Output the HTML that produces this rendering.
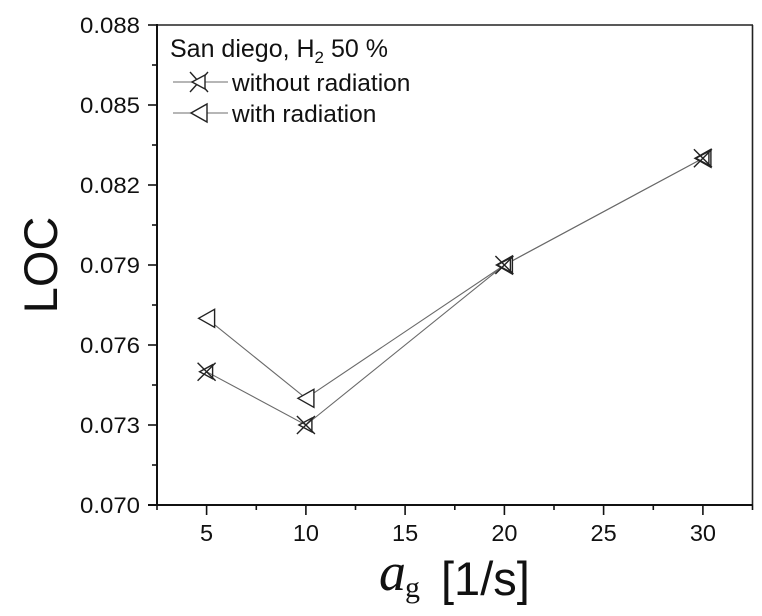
<!DOCTYPE html>
<html>
<head>
<meta charset="utf-8">
<style>
  html, body { margin: 0; padding: 0; background: #ffffff; }
  svg { display: block; }
  text { font-family: "Liberation Sans", Arial, sans-serif; fill: #111; }
</style>
</head>
<body>
<svg width="762" height="616" viewBox="0 0 762 616" xmlns="http://www.w3.org/2000/svg">
  <rect x="0" y="0" width="762" height="616" fill="#ffffff"/>

  <!-- frame -->
  <line x1="157" y1="25" x2="753" y2="25" stroke="#222" stroke-width="1.6"/>
  <line x1="752.5" y1="25" x2="752.5" y2="505" stroke="#222" stroke-width="1.6"/>
  <line x1="157" y1="24" x2="157" y2="506" stroke="#111" stroke-width="2"/>
  <line x1="148" y1="505" x2="753" y2="505" stroke="#111" stroke-width="2"/>

  <!-- y ticks -->
  <g stroke="#111" stroke-width="1.6">
    <line x1="148" y1="25" x2="157" y2="25"/>
    <line x1="148" y1="105" x2="157" y2="105"/>
    <line x1="148" y1="185" x2="157" y2="185"/>
    <line x1="148" y1="265" x2="157" y2="265"/>
    <line x1="148" y1="345" x2="157" y2="345"/>
    <line x1="148" y1="425" x2="157" y2="425"/>
    <line x1="148" y1="505" x2="157" y2="505"/>
    <line x1="152" y1="65" x2="157" y2="65"/>
    <line x1="152" y1="145" x2="157" y2="145"/>
    <line x1="152" y1="225" x2="157" y2="225"/>
    <line x1="152" y1="305" x2="157" y2="305"/>
    <line x1="152" y1="385" x2="157" y2="385"/>
    <line x1="152" y1="465" x2="157" y2="465"/>
  </g>

  <!-- x ticks -->
  <g stroke="#111" stroke-width="1.6">
    <line x1="157" y1="505" x2="157" y2="510"/>
    <line x1="206.6" y1="505" x2="206.6" y2="515"/>
    <line x1="256.3" y1="505" x2="256.3" y2="510"/>
    <line x1="305.9" y1="505" x2="305.9" y2="515"/>
    <line x1="355.5" y1="505" x2="355.5" y2="510"/>
    <line x1="405.1" y1="505" x2="405.1" y2="515"/>
    <line x1="454.8" y1="505" x2="454.8" y2="510"/>
    <line x1="504.4" y1="505" x2="504.4" y2="515"/>
    <line x1="554" y1="505" x2="554" y2="510"/>
    <line x1="603.6" y1="505" x2="603.6" y2="515"/>
    <line x1="653.3" y1="505" x2="653.3" y2="510"/>
    <line x1="702.9" y1="505" x2="702.9" y2="515"/>
    <line x1="752.5" y1="505" x2="752.5" y2="510"/>
  </g>

  <!-- y tick labels -->
  <g font-size="22">
    <text x="80" y="33" textLength="60" lengthAdjust="spacingAndGlyphs">0.088</text>
    <text x="80" y="113" textLength="60" lengthAdjust="spacingAndGlyphs">0.085</text>
    <text x="80" y="193" textLength="60" lengthAdjust="spacingAndGlyphs">0.082</text>
    <text x="80" y="273" textLength="60" lengthAdjust="spacingAndGlyphs">0.079</text>
    <text x="80" y="353" textLength="60" lengthAdjust="spacingAndGlyphs">0.076</text>
    <text x="80" y="433" textLength="60" lengthAdjust="spacingAndGlyphs">0.073</text>
    <text x="80" y="513" textLength="60" lengthAdjust="spacingAndGlyphs">0.070</text>
  </g>

  <!-- x tick labels -->
  <g font-size="23.5" text-anchor="middle">
    <text x="206.6" y="541">5</text>
    <text x="305.9" y="541">10</text>
    <text x="405.1" y="541">15</text>
    <text x="504.4" y="541">20</text>
    <text x="603.6" y="541">25</text>
    <text x="702.9" y="541">30</text>
  </g>

  <!-- axis titles -->
  <text transform="translate(57,265) rotate(-90)" font-size="47" text-anchor="middle">LOC</text>
  <text x="379" y="590" font-size="54" font-style="italic" style="font-family:'Liberation Serif','DejaVu Serif',serif;">a</text>
  <text x="405" y="597" font-size="30" style="font-family:'Liberation Serif','DejaVu Serif',serif;">g</text>
  <text x="441" y="595" font-size="47">[1/s]</text>

  <!-- series lines -->
  <polyline points="206.6,371.7 305.9,425 504.4,265 702.9,158.3" fill="none" stroke="#6a6a6a" stroke-width="1.1"/>
  <polyline points="206.6,318.3 305.9,398.3 504.4,265 702.9,158.3" fill="none" stroke="#6a6a6a" stroke-width="1.1"/>

  <!-- with radiation markers (left triangles) -->
  <g fill="#ffffff" stroke="#222" stroke-width="1.4" stroke-linejoin="miter">
    <path d="M198.6,318.3 L214.6,309.3 L214.6,327.3 Z"/>
    <path d="M297.9,398.3 L313.9,389.3 L313.9,407.3 Z"/>
    <path d="M496.4,265 L512.4,256 L512.4,274 Z"/>
    <path d="M694.9,158.3 L710.9,149.3 L710.9,167.3 Z"/>
  </g>

  <!-- without radiation markers (X + small triangle) -->
  <g fill="none" stroke="#222" stroke-width="1.4">
    <g transform="translate(206.6,371.7)">
      <line x1="-9" y1="-9" x2="9" y2="9"/><line x1="-9" y1="9" x2="9" y2="-9"/>
      <path d="M-7,0 L6,-7 L6,7 Z"/>
    </g>
    <g transform="translate(305.9,425)">
      <line x1="-9" y1="-9" x2="9" y2="9"/><line x1="-9" y1="9" x2="9" y2="-9"/>
      <path d="M-7,0 L6,-7 L6,7 Z"/>
    </g>
    <g transform="translate(504.4,265)">
      <line x1="-9" y1="-9" x2="9" y2="9"/><line x1="-9" y1="9" x2="9" y2="-9"/>
      <path d="M-7,0 L6,-7 L6,7 Z"/>
    </g>
    <g transform="translate(702.9,158.3)">
      <line x1="-9" y1="-9" x2="9" y2="9"/><line x1="-9" y1="9" x2="9" y2="-9"/>
      <path d="M-7,0 L6,-7 L6,7 Z"/>
    </g>
  </g>

  <!-- legend -->
  <text x="170" y="57" font-size="25">San diego, H<tspan font-size="17" dy="6">2</tspan><tspan dy="-6"> 50 %</tspan></text>

  <line x1="173" y1="82" x2="228" y2="82" stroke="#8a8a8a" stroke-width="1.3"/>
  <g transform="translate(199,82)" fill="none" stroke="#222" stroke-width="1.4">
    <line x1="-9" y1="-10" x2="9" y2="10"/><line x1="-9" y1="10" x2="9" y2="-10"/>
    <path d="M-7,0 L6,-7 L6,7 Z" fill="#ffffff"/>
  </g>
  <text x="232" y="91" font-size="24.5">without radiation</text>

  <line x1="173" y1="113" x2="228" y2="113" stroke="#8a8a8a" stroke-width="1.3"/>
  <path d="M191,113 L207,104 L207,122 Z" fill="#ffffff" stroke="#222" stroke-width="1.4"/>
  <text x="232" y="122" font-size="24.5">with radiation</text>
</svg>
</body>
</html>
